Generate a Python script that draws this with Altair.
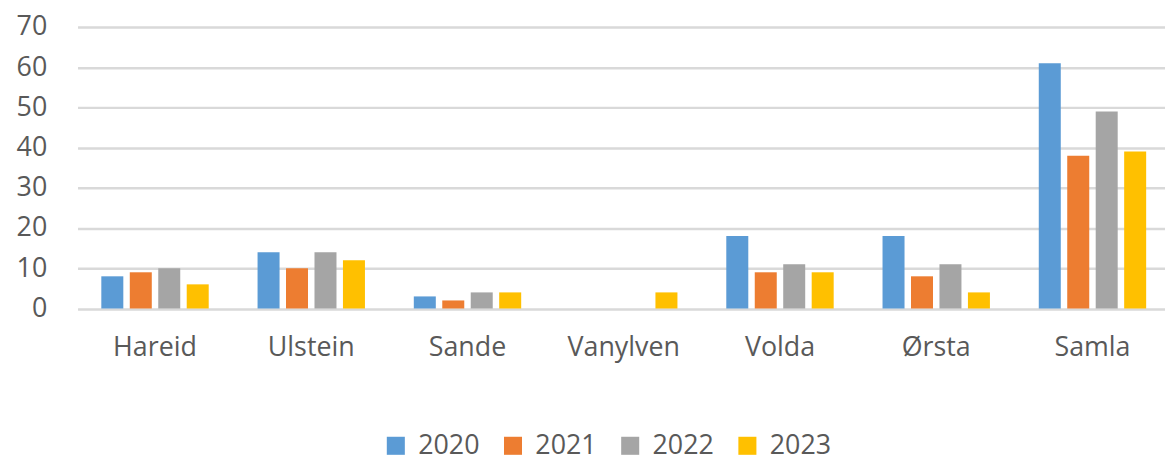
import altair as alt
import pandas as pd

categories = ["Hareid", "Ulstein", "Sande", "Vanylven", "Volda", "Ørsta", "Samla"]
years = ["2020", "2021", "2022", "2023"]
v2020 = [8, 14, 3, 0, 18, 18, 61]
v2021 = [9, 10, 2, 0, 9, 8, 38]
v2022 = [10, 14, 4, 0, 11, 11, 49]
v2023 = [6, 12, 4, 4, 9, 4, 39]
colors = ["#5B9BD5", "#ED7D31", "#A5A5A5", "#FFC000"]

rows = []
for yr, vals in zip(years, [v2020, v2021, v2022, v2023]):
    for c, v in zip(categories, vals):
        rows.append({"Kommune": c, "År": yr, "Verdi": v})
df = pd.DataFrame(rows)

FONT = "Open Sans"
GREY = "#595959"

chart = alt.Chart(df).transform_filter("datum.Verdi > 0").mark_bar().encode(
    x=alt.X("Kommune:N", sort=categories, title=None,
            scale=alt.Scale(domain=categories, range=[0, 1100], paddingInner=0.27, paddingOuter=0.131),
            axis=alt.Axis(labelAngle=0, labelFontSize=27, labelColor=GREY, labelFont=FONT,
                          ticks=False, domain=False, labelPadding=26)),
    xOffset=alt.XOffset("År:N", scale=alt.Scale(domain=years, paddingInner=0.227, paddingOuter=0.117)),
    y=alt.Y("Verdi:Q", title=None,
            scale=alt.Scale(domain=[0, 70], nice=False),
            axis=alt.Axis(values=[0, 10, 20, 30, 40, 50, 60, 70], labelFontSize=27,
                          labelColor=GREY, labelFont=FONT, ticks=False, domain=False,
                          labelPadding=31, gridColor="#D9D9D9", gridWidth=2.5)),
    color=alt.Color("År:N", scale=alt.Scale(domain=years, range=colors),
                    legend=alt.Legend(title=None, orient="none", direction="horizontal",
                                      legendX=307, legendY=408, columns=4,
                                      symbolType="square", symbolSize=330,
                                      symbolStrokeWidth=0, labelFontSize=27,
                                      labelColor=GREY, labelFont=FONT,
                                      columnPadding=20, labelOffset=9)),
).properties(
    width=1095,
    height=283.5,
    autosize=alt.AutoSizeParams(type="none"),
    padding={"left": 70, "top": 17.5, "right": 0, "bottom": 152},
).configure_view(stroke=None)

chart.save("out.html", embed_options={"renderer": "svg", "actions": False})
